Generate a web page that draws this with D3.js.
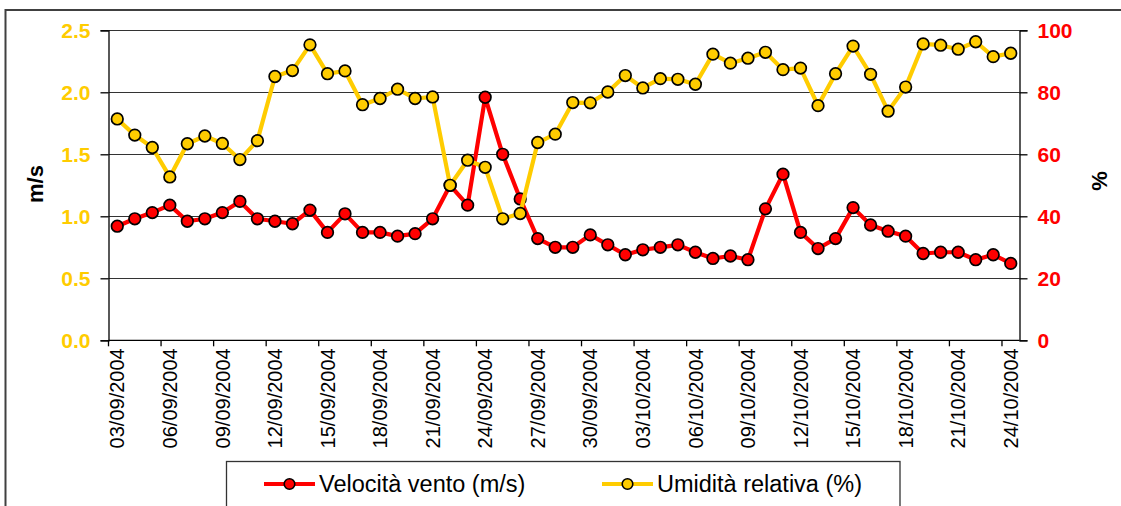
<!DOCTYPE html>
<html>
<head>
<meta charset="utf-8">
<script src="https://cdn.jsdelivr.net/npm/d3@7"></script>
<style>
  html, body { margin: 0; padding: 0; background: #fff; }
  svg { display: block; font-family: "Liberation Sans", Arial, sans-serif; }
</style>
</head>
<body>
<svg id="chart" width="1121" height="506"></svg>
<script>
// categories (one per day)
var dates = [
  "03/09/2004","04/09/2004","05/09/2004","06/09/2004","07/09/2004","08/09/2004","09/09/2004",
  "10/09/2004","11/09/2004","12/09/2004","13/09/2004","14/09/2004","15/09/2004","16/09/2004",
  "17/09/2004","18/09/2004","19/09/2004","20/09/2004","21/09/2004","22/09/2004","23/09/2004",
  "24/09/2004","25/09/2004","26/09/2004","27/09/2004","28/09/2004","29/09/2004","30/09/2004",
  "01/10/2004","02/10/2004","03/10/2004","04/10/2004","05/10/2004","06/10/2004","07/10/2004",
  "08/10/2004","09/10/2004","10/10/2004","11/10/2004","12/10/2004","13/10/2004","14/10/2004",
  "15/10/2004","16/10/2004","17/10/2004","18/10/2004","19/10/2004","20/10/2004","21/10/2004",
  "22/10/2004","23/10/2004","24/10/2004"
];
// Velocità vento (m/s) - asse sinistro
var vento = [0.92,0.98,1.03,1.09,0.96,0.98,1.03,1.12,0.98,0.96,
             0.94,1.05,0.87,1.02,0.87,0.87,0.84,0.86,0.98,1.25,
             1.09,1.96,1.50,1.14,0.82,0.75,0.75,0.85,0.77,0.69,
             0.73,0.75,0.77,0.71,0.66,0.68,0.65,1.06,1.34,0.87,
             0.74,0.82,1.07,0.93,0.88,0.84,0.70,0.71,0.71,0.65,
             0.69,0.62];
// Umidità relativa (%) - asse destro
var umidita = [71.4,66.2,62.2,52.7,63.4,65.9,63.5,58.3,64.4,85.1,
               87.0,95.3,86.0,86.9,76.0,78.0,81.0,78.0,78.5,50.0,
               58.1,55.8,39.2,40.9,63.8,66.5,76.7,76.6,80.1,85.4,
               81.4,84.4,84.2,82.6,92.3,89.4,91.0,92.9,87.3,87.8,
               75.7,86.0,94.9,85.8,73.9,81.7,95.6,95.2,93.9,96.3,
               91.5,92.6];
var leftTicks = [0, 0.5, 1.0, 1.5, 2.0, 2.5];
var rightTicks = [0, 20, 40, 60, 80, 100];
var seriesNames = ["Velocità vento (m/s)", "Umidità relativa (%)"];

var RED = "#ff0000", YELLOW = "#ffcc00", GRID = "#333";

var svg = d3.select("#chart");
var plotL = 108.5, plotR = 1019.5, plotT = 30.3, plotB = 340.3;

var x = d3.scaleBand().domain(dates).range([plotL, plotR]).padding(0);
var yL = d3.scaleLinear().domain([0, 2.5]).range([plotB, plotT]);
var yR = d3.scaleLinear().domain([0, 100]).range([plotB, plotT]);

// outer frame (cut by the picture edge)
svg.append("rect")
    .attr("x", 5.5).attr("y", 10).attr("width", 1200).attr("height", 600)
    .attr("fill", "none").attr("stroke", "#404040").attr("stroke-width", 2);

// gridlines
svg.append("g").selectAll("line")
    .data(leftTicks.slice(1))
    .join("line")
    .attr("x1", plotL).attr("x2", plotR)
    .attr("y1", function(d){ return Math.round(yL(d)) + 0.5; })
    .attr("y2", function(d){ return Math.round(yL(d)) + 0.5; })
    .attr("stroke", GRID).attr("stroke-width", 1);

// left axis
var axL = svg.append("g")
    .attr("transform", "translate(" + plotL + ",0)")
    .call(d3.axisLeft(yL).tickValues(leftTicks).tickFormat(d3.format(".1f")).tickSize(8).tickPadding(10));
axL.selectAll("text").attr("fill", YELLOW).attr("font-size", "21px").attr("font-weight", "bold")
    .attr("font-family", "Liberation Sans, Arial, sans-serif");

// right axis
var axR = svg.append("g")
    .attr("transform", "translate(" + plotR + ",0)")
    .call(d3.axisRight(yR).tickValues(rightTicks).tickFormat(d3.format("d")).tickSize(8).tickPadding(10));
axR.selectAll("text").attr("fill", RED).attr("font-size", "21px").attr("font-weight", "bold")
    .attr("font-family", "Liberation Sans, Arial, sans-serif");

[axL, axR].forEach(function(a){
    a.select(".domain").attr("stroke", "#000").attr("stroke-width", 1.3);
    a.selectAll(".tick line").attr("stroke", "#000").attr("stroke-width", 1.3);
});

// bottom axis: labels every 3 days, ticks on category boundaries
var labelDates = dates.filter(function(d, i){ return i % 3 === 0; });
var axB = svg.append("g")
    .attr("transform", "translate(0," + plotB + ")")
    .call(d3.axisBottom(x).tickValues(labelDates).tickSize(0).tickPadding(0));
axB.select(".domain").remove();
axB.selectAll("text")
    .attr("font-size", "20px").attr("fill", "#000")
    .attr("font-family", "Liberation Sans, Arial, sans-serif")
    .attr("text-anchor", "end")
    .attr("transform", "rotate(-90)")
    .attr("x", -8).attr("y", 0).attr("dy", "0.36em");
svg.append("line")
    .attr("x1", plotL).attr("x2", plotR).attr("y1", plotB).attr("y2", plotB)
    .attr("stroke", "#000").attr("stroke-width", 1.3);
svg.append("g").selectAll("line")
    .data(labelDates)
    .join("line")
    .attr("x1", function(d){ return x(d); }).attr("x2", function(d){ return x(d); })
    .attr("y1", plotB).attr("y2", plotB + 6)
    .attr("stroke", "#000").attr("stroke-width", 1.3);

// axis titles
svg.append("text")
    .attr("transform", "translate(35,184) rotate(-90)")
    .attr("text-anchor", "middle").attr("dy", "0.35em")
    .attr("font-size", "22px").attr("font-weight", "bold").text("m/s");
svg.append("text")
    .attr("transform", "translate(1099,181) rotate(-90)")
    .attr("text-anchor", "middle").attr("dy", "0.35em")
    .attr("font-size", "22px").attr("font-weight", "bold").text("%");

// series
function drawSeries(values, yScale, color) {
    var cx = function(d, i){ return x(dates[i]) + x.bandwidth() / 2; };
    var line = d3.line().x(cx).y(function(d){ return yScale(d); });
    svg.append("path").datum(values)
        .attr("d", line).attr("fill", "none")
        .attr("stroke", color).attr("stroke-width", 4.2).attr("stroke-linejoin", "round");
    svg.append("g").selectAll("circle")
        .data(values)
        .join("circle")
        .attr("cx", cx).attr("cy", function(d){ return yScale(d); })
        .attr("r", 5.8).attr("fill", color)
        .attr("stroke", "#000").attr("stroke-width", 1.7);
}
drawSeries(vento, yL, RED);
drawSeries(umidita, yR, YELLOW);

// legend
var lg = svg.append("g");
lg.append("rect")
    .attr("x", 226.5).attr("y", 461.5).attr("width", 673.5).attr("height", 80)
    .attr("fill", "#fff").attr("stroke", "#333").attr("stroke-width", 1.3);
var legendItems = [
    { name: seriesNames[0], color: RED, x0: 264 },
    { name: seriesNames[1], color: YELLOW, x0: 602 }
];
legendItems.forEach(function(it){
    var ly = 484;
    lg.append("line")
        .attr("x1", it.x0).attr("x2", it.x0 + 51).attr("y1", ly).attr("y2", ly)
        .attr("stroke", it.color).attr("stroke-width", 4);
    lg.append("circle")
        .attr("cx", it.x0 + 25.5).attr("cy", ly).attr("r", 5.3)
        .attr("fill", it.color).attr("stroke", "#000").attr("stroke-width", 1.6);
    lg.append("text")
        .attr("x", it.x0 + 55).attr("y", ly).attr("dy", "0.36em")
        .attr("font-size", "23.5px").attr("fill", "#000").text(it.name);
});
</script>
</body>
</html>
